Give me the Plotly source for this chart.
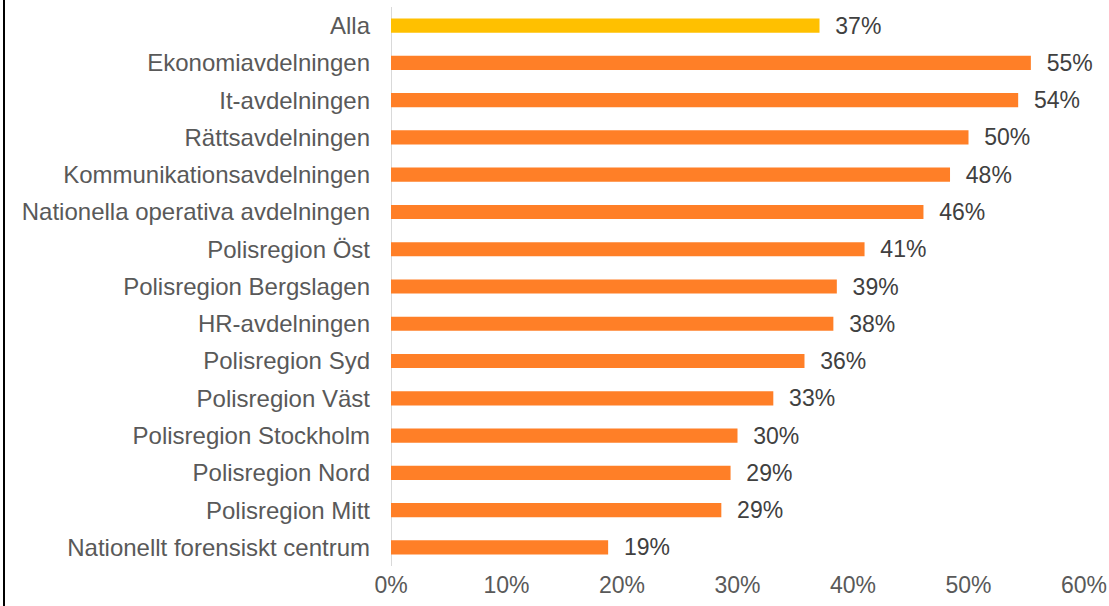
import plotly.graph_objects as go

categories = ["Alla", "Ekonomiavdelningen", "It-avdelningen", "Rättsavdelningen",
              "Kommunikationsavdelningen", "Nationella operativa avdelningen",
              "Polisregion Öst", "Polisregion Bergslagen", "HR-avdelningen",
              "Polisregion Syd", "Polisregion Väst", "Polisregion Stockholm",
              "Polisregion Nord", "Polisregion Mitt", "Nationellt forensiskt centrum"]
values = [37.1, 55.4, 54.3, 50.0, 48.4, 46.1, 41.0, 38.6, 38.3, 35.8, 33.1, 30.0, 29.4, 28.6, 18.8]
bar_colors = ["#FFC000"] + ["#FF7F27"] * 14
tick_vals = [0, 10, 20, 30, 40, 50, 60]
tick_text = ["0%", "10%", "20%", "30%", "40%", "50%", "60%"]

W, H = 1109, 606
L, R, T, B = 391, 25, 7, 40
FS = 23

fig = go.Figure(go.Bar(
    y=categories, x=values, orientation="h",
    marker=dict(color=bar_colors, line=dict(width=0)),
    texttemplate="\u00a0\u00a0%{x:.0f}%", textposition="outside",
    constraintext="none",
    textfont=dict(family="Liberation Sans, Arial", size=FS, color="#404040"),
    cliponaxis=False, width=0.38, hoverinfo="skip",
))

fig.update_layout(
    width=W, height=H,
    margin=dict(l=L, r=R, t=T, b=B, autoexpand=False),
    plot_bgcolor="white", paper_bgcolor="white",
    showlegend=False,
    font=dict(family="Liberation Sans, Arial", size=FS, color="#595959"),
    xaxis=dict(range=[0, 60], tickvals=tick_vals, ticktext=tick_text,
               showgrid=False, zeroline=False, showline=False, automargin=False,
               tickfont=dict(size=FS, color="#595959"), ticklabelstandoff=3),
    yaxis=dict(categoryorder="array", categoryarray=categories[::-1],
               showgrid=False, zeroline=False, showline=False, automargin=False,
               tickfont=dict(size=24, color="#595959"), ticklabelstandoff=20),
)

# vertical zero axis line
fig.add_shape(type="line", xref="x", yref="paper", x0=0, x1=0, y0=0, y1=1,
              layer="below", line=dict(color="#D9D9D9", width=2))
# left border of the chart frame
fig.add_shape(type="line", xref="paper", yref="paper",
              x0=(4 - L) / (W - L - R), x1=(4 - L) / (W - L - R),
              y0=-B / (H - T - B), y1=1 + T / (H - T - B) + 0.05,
              line=dict(color="#000000", width=2))

fig.write_html("out.html", config={"displayModeBar": False},
               post_script="document.body.style.margin='0';document.body.style.overflow='hidden';")
